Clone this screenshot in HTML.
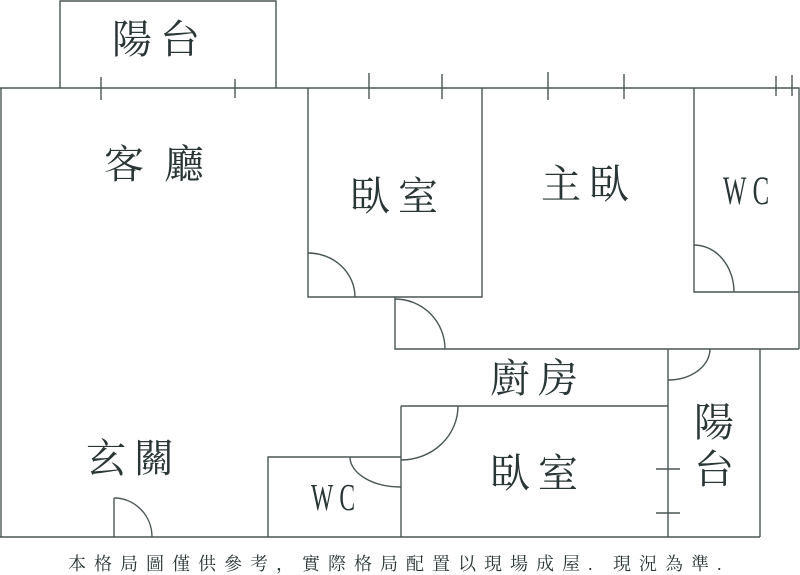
<!DOCTYPE html>
<html><head><meta charset="utf-8"><style>
html,body{margin:0;padding:0;background:#fff;width:800px;height:575px;overflow:hidden}
svg{display:block}
text{font-family:"Liberation Serif","Noto Serif CJK SC",serif;fill:#2a3535}
</style></head><body>
<svg width="800" height="575" viewBox="0 0 800 575" xmlns="http://www.w3.org/2000/svg">
<g fill="none" stroke="#4a5555" stroke-width="1.4">
<polyline points="60,88 60,1 276,1 276,88"/>
<polyline points="0,88 799,88 799,349"/>
<line x1="1" y1="88" x2="1" y2="537"/>
<line x1="0" y1="537" x2="760" y2="537"/>
<polyline points="308,88 308,297 482,297 482,88"/>
<path d="M308,253 A47,44 0 0 1 355,297"/>
<polyline points="694,88 694,292 799,292"/>
<path d="M694,245 A40,47 0 0 1 734,292"/>
<polyline points="395,297 395,349 799,349"/>
<path d="M395,299 A50,50 0 0 1 445,349"/>
<polyline points="668,349 668,537"/>
<polyline points="760,349 760,537"/>
<path d="M710,349 A42,31 0 0 1 668,380"/>
<polyline points="401,406 668,406"/>
<line x1="401" y1="406" x2="401" y2="537"/>
<path d="M458,406 A57,54 0 0 1 401,460"/>
<polyline points="268,537 268,457 401,457"/>
<path d="M350,457 A51,30 0 0 0 401,487"/>
<polyline points="114,537 114,498"/>
<path d="M114,498 A38,39 0 0 1 152,537"/>
<line x1="101" y1="77" x2="101" y2="100"/>
<line x1="235" y1="79" x2="235" y2="98"/>
<line x1="369" y1="73" x2="369" y2="99"/>
<line x1="442" y1="74" x2="442" y2="99"/>
<line x1="548" y1="72" x2="548" y2="100"/>
<line x1="624" y1="74" x2="624" y2="99"/>
<line x1="776" y1="76" x2="776" y2="96"/>
<line x1="792" y1="75" x2="792" y2="96"/>
<line x1="656" y1="469" x2="680" y2="469"/>
<line x1="656" y1="513" x2="680" y2="513"/>
</g>
<g font-size="40" letter-spacing="8">
<text x="112" y="53">陽台</text>
<text x="104" y="178" letter-spacing="20">客廳</text>
<text x="350" y="210">臥室</text>
<text x="541" y="198">主臥</text>
<text x="490" y="392">廚房</text>
<text x="694" y="436">陽</text>
<text x="694" y="483">台</text>
<text x="86" y="472">玄關</text>
<text x="490" y="487">臥室</text>
</g>
<text x="723" y="204" font-size="40" letter-spacing="10" transform="translate(723,0) scale(0.62,1) translate(-723,0)">WC</text>
<text x="311" y="510" font-size="38" letter-spacing="10" transform="translate(311,0) scale(0.62,1) translate(-311,0)">WC</text>
<text x="68" y="570" font-size="18" letter-spacing="8">本格局圖僅供參考，實際格局配置以現場成屋. 現況為準.</text>
</svg>
</body></html>
